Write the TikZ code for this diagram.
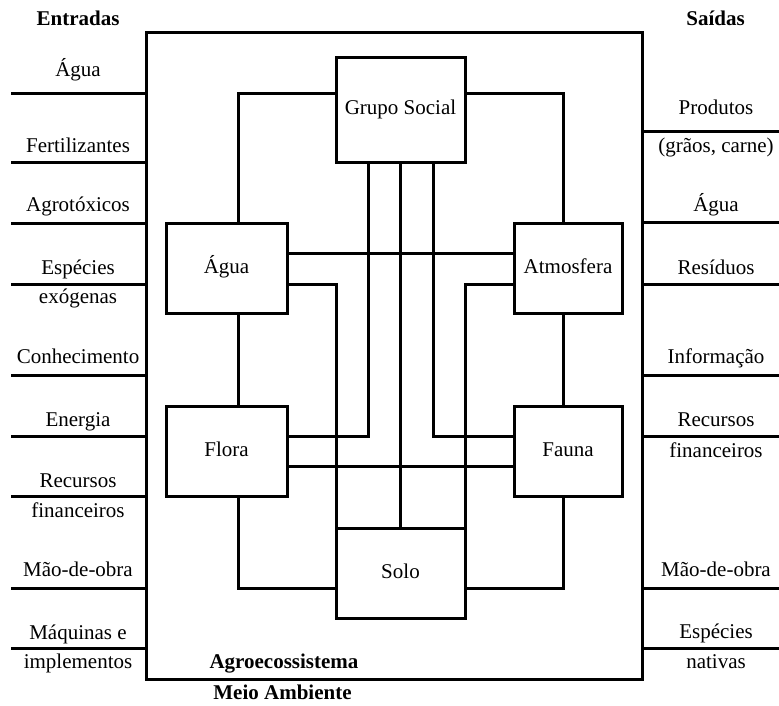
\documentclass[tikz,border=0pt]{standalone}
\usepackage{fontspec}
\setmainfont{Liberation Serif}
\begin{document}
\begin{tikzpicture}[x=1pt,y=-1pt,line width=3pt,
  font=\fontsize{21}{25}\selectfont,
  box/.style={draw,inner sep=0pt,outer sep=0pt,text height=14pt,text depth=4pt,align=center},
  lbl/.style={anchor=base,inner sep=0pt},
  hdr/.style={anchor=base,inner sep=0pt,font=\fontsize{21}{25}\selectfont\bfseries},
  link/.style={draw,line width=3pt}]
\useasboundingbox (0,0) rectangle (779,705);

% system boundary
\node[draw,outer sep=0pt,minimum width=496pt,minimum height=647pt] (agro) at (394,355.5) {};

% components
\node[box,minimum width=129pt,minimum height=105pt] (gs)    at (400.5,109.5) {Grupo Social};
\node[box,minimum width=121pt,minimum height=90pt]  (agua)  at (226.5,268) {Água};
\node[box,minimum width=108pt,minimum height=90pt]  (atm)   at (568,268) {Atmosfera};
\node[box,minimum width=121pt,minimum height=90pt]  (flora) at (226.5,451) {Flora};
\node[box,minimum width=108pt,minimum height=90pt]  (fauna) at (568,451) {Fauna};
\node[box,minimum width=129pt,minimum height=90pt]  (solo)  at (400.5,573) {Solo};

% routing levels
\coordinate (hTop) at (0,93);
\coordinate (hA) at (0,253);
\coordinate (hB) at (0,284);
\coordinate (hC) at (0,436);
\coordinate (hD) at (0,466);
\coordinate (hE) at (0,588);
\coordinate (xL) at (238,0);
\coordinate (xR) at (563,0);
\coordinate (vA) at (368,0);
\coordinate (vB) at (400,0);
\coordinate (vC) at (433,0);

% interactions
\draw[link] (gs.west |- hTop) -| (agua.north -| xL);
\draw[link] (gs.east |- hTop) -| (atm.north -| xR);
\draw[link] (agua.east |- hA) -- (atm.west |- hA);
\draw[link] (agua.east |- hB) -| (solo.north west);
\draw[link] (atm.west |- hB) -| (solo.north east);
\draw[link] (gs.south -| vA) |- (flora.east |- hC);
\draw[link] (gs.south -| vB) -- (solo.north -| vB);
\draw[link] (gs.south -| vC) |- (fauna.west |- hC);
\draw[link] (flora.east |- hD) -- (fauna.west |- hD);
\draw[link] (agua.south -| xL) -- (flora.north -| xL);
\draw[link] (atm.south -| xR) -- (fauna.north -| xR);
\draw[link] (flora.south -| xL) |- (solo.west |- hE);
\draw[link] (fauna.south -| xR) |- (solo.east |- hE);

% inputs
\foreach \n/\y in {1/93,2/162,3/223,4/284,5/375,6/436,7/496,8/588,9/648}{
  \coordinate (in\n) at (11,\y);
  \draw[link] (in\n) -- (in\n -| agro.west);
}
% outputs
\foreach \n/\y in {1/131,2/222,3/284,4/375,5/436,6/588,7/648}{
  \coordinate (out\n) at (779,\y);
  \draw[link] (agro.east |- out\n) -- (out\n);
}

% headings
\node[hdr] (entradas) at (78,25) {Entradas};
\node[hdr] (saidas) at (715.5,25) {Saídas};
\node[hdr] (agrolbl) at (284,668) {Agroecossistema};
\node[hdr] (meio) at (282.5,699) {Meio Ambiente};

% input labels
\node[lbl] (inA) at (78,76) {Água};
\node[lbl] (inB) at (78,152) {Fertilizantes};
\node[lbl] (inC) at (78,211) {Agrotóxicos};
\node[lbl] (inD) at (78,274) {Espécies};
\node[lbl] (inD2) at (78,303) {exógenas};
\node[lbl] (inE) at (78,363) {Conhecimento};
\node[lbl] (inF) at (78,426) {Energia};
\node[lbl] (inG) at (78,487) {Recursos};
\node[lbl] (inG2) at (78,517) {financeiros};
\node[lbl] (inH) at (78,576) {Mão-de-obra};
\node[lbl] (inI) at (78,639) {Máquinas e};
\node[lbl] (inI2) at (78,668) {implementos};

% output labels
\node[lbl] (outA) at (716,114) {Produtos};
\node[lbl] (outA2) at (716,152) {(grãos, carne)};
\node[lbl] (outB) at (716,211) {Água};
\node[lbl] (outC) at (716,274) {Resíduos};
\node[lbl] (outD) at (716,363) {Informação};
\node[lbl] (outE) at (716,426) {Recursos};
\node[lbl] (outE2) at (716,457) {financeiros};
\node[lbl] (outF) at (716,576) {Mão-de-obra};
\node[lbl] (outG) at (716,638) {Espécies};
\node[lbl] (outG2) at (716,668) {nativas};
\end{tikzpicture}
\end{document}
